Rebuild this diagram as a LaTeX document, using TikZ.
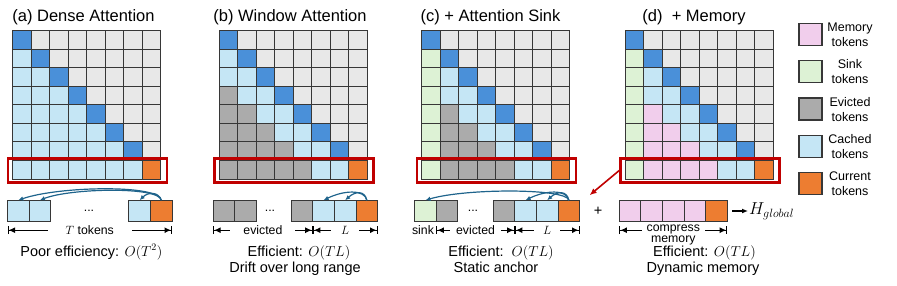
\documentclass[tikz,border=0pt]{standalone}
\usepackage{fontspec}
\setmainfont{Liberation Sans}
\usetikzlibrary{positioning,arrows.meta}

\definecolor{diag}{RGB}{74,144,217}
\definecolor{cached}{RGB}{197,230,245}
\definecolor{future}{RGB}{232,232,232}
\definecolor{evicted}{RGB}{171,171,171}
\definecolor{sink}{RGB}{221,242,213}
\definecolor{memory}{RGB}{241,206,236}
\definecolor{current}{RGB}{237,125,49}
\definecolor{gridline}{RGB}{55,55,55}
\definecolor{boxred}{RGB}{192,0,0}
\definecolor{arcblue}{RGB}{31,100,140}

\tikzset{
    cell/.style={draw=gridline, line width=1pt},
    tok/.style={draw=gridline, line width=1pt, minimum width=21.6pt, minimum height=21.6pt, inner sep=0pt, outer sep=0pt},
    redbox/.style={draw=boxred, line width=2.6pt, minimum width=159pt, minimum height=24.5pt, inner sep=0pt},
    attn/.style={draw=arcblue, line width=1.2pt, -{Latex[length=5pt,width=4.5pt]}},
    dim/.style={line width=1.1pt, {Bar[width=8pt]Latex[length=6.5pt,width=6pt]}-{Latex[length=6.5pt,width=6pt]Bar[width=8pt]}},
    lbl/.style={font=\fontsize{12.3}{10}\selectfont, inner sep=0pt},
    dimlbl/.style={lbl, fill=white, inner ysep=1pt},
    title/.style={font=\fontsize{16.5}{19}\selectfont, anchor=base, inner sep=0pt},
    caption/.style={font=\fontsize{14.5}{17}\selectfont, anchor=base, inner sep=0pt},
    legbox/.style={draw=gridline, line width=1.2pt, minimum width=23pt, minimum height=22pt, inner sep=0pt},
    legtxt/.style={font=\fontsize{12.5}{15}\selectfont, align=center, inner sep=0pt},
}

\begin{document}
\begin{tikzpicture}[x=1pt,y=-1pt]
    \useasboundingbox (0,0) rectangle (897,286);

    % attention maps
    \foreach \p/\xo in {0/12.5,1/219,2/421.5,3/625} {
        \foreach \r in {0,...,7} {
            \foreach \c in {0,...,7} {
                \def\cc{evicted}
                \ifnum\p=3 \def\cc{memory}\fi
                \ifnum\c>\numexpr\r-3\relax \def\cc{cached}\fi
                \ifnum\p=0 \def\cc{cached}\fi
                \ifnum\p>1 \ifnum\c=0 \def\cc{sink}\fi\fi
                \ifnum\c=\r \def\cc{diag}\fi
                \ifnum\c>\r \def\cc{future}\fi
                \filldraw[cell, fill=\cc] ({\xo+\c*18.5},{31+\r*18.5}) rectangle +(18.5,18.5);
            }
        }
        \filldraw[cell, fill=current] ({\xo+7*18.5},{31+7*18.5}) rectangle +(18.5,18.5);
    }

    \node[title] (ttl-a) at (83.5,22) {(a) Dense Attention};
    \node[title] (ttl-b) at (290,22) {(b) Window Attention};
    \node[title] (ttl-c) at (490.5,22) {(c) + Attention Sink};
    \node[title] (ttl-d) at (694,22) {(d)\ \ + Memory};

    % last row = current query
    \node[redbox] (row-a) at (87.5,170.5) {};
    \node[redbox] (row-b) at (294,170.5) {};
    \node[redbox] (row-c) at (496.5,170.5) {};
    \node[redbox] (row-d) at (700,170.5) {};

    % (a) strip
    \node[tok, fill=cached] (a1) at (18.3,211) {};
    \node[tok, fill=cached, right=0pt of a1] (a2) {};
    \node[lbl] (dots-a) at (89,211) {...};
    \node[tok, fill=cached] (a3) at (139.7,211) {};
    \node[tok, fill=current, right=0pt of a3] (a4) {};
    \draw[attn] (a4.north) .. controls +(-2,-16) and +(40,-14) .. (a1.north);
    \draw[attn] (a4.north) .. controls +(-2,-14) and +(30,-12) .. (a2.north);
    \draw[attn] (a4.north) .. controls +(-3,-9) and +(8,-8) .. (a3.north);
    \draw[dim] ([yshift=-8.4pt]a1.south west) -- node[dimlbl, inner xsep=18pt] (len-a) {$T$ tokens} ([yshift=-8.4pt]a4.south east);

    % (b) strip
    \node[tok, fill=evicted] (b1) at (223.8,211) {};
    \node[tok, fill=evicted, right=0pt of b1] (b2) {};
    \node[lbl] (dots-b) at (270,211) {...};
    \node[tok, fill=evicted] (b3) at (302,211) {};
    \node[tok, fill=cached, right=0pt of b3] (b4) {};
    \node[tok, fill=cached, right=0pt of b4] (b5) {};
    \node[tok, fill=current, right=0pt of b5] (b6) {};
    \draw[attn] (b6.north) .. controls +(-2,-11) and +(20,-10) .. (b4.north);
    \draw[attn] (b6.north) .. controls +(-2,-10) and +(10,-9) .. (b5.north);
    \draw[dim] ([yshift=-8.4pt]b1.south west) -- node[dimlbl, inner xsep=13pt] (evict-b) {evicted} ([yshift=-8.4pt]b3.south east);
    \draw[dim] ([yshift=-8.4pt]b3.south east) -- node[dimlbl, inner xsep=10pt] (win-b) {$L$} ([yshift=-8.4pt]b6.south east);

    % (c) strip
    \node[tok, fill=sink] (c1) at (425.5,211) {};
    \node[tok, fill=evicted, right=0pt of c1] (c2) {};
    \node[lbl] (dots-c) at (473,211) {...};
    \node[tok, fill=evicted] (c3) at (504,211) {};
    \node[tok, fill=cached, right=0pt of c3] (c4) {};
    \node[tok, fill=cached, right=0pt of c4] (c5) {};
    \node[tok, fill=current, right=0pt of c5] (c6) {};
    \draw[attn] (c6.north) .. controls +(-2,-12) and +(40,-12) .. (c1.north);
    \draw[attn] (c6.north) .. controls +(-2,-11) and +(20,-10) .. (c4.north);
    \draw[attn] (c6.north) .. controls +(-2,-10) and +(10,-9) .. (c5.north);
    \node[lbl] (sink-c) at ([xshift=-2.5pt,yshift=-8.4pt]c1.south) {sink};
    \draw[dim] ([yshift=-8.4pt]c1.south east) -- node[dimlbl, inner xsep=6pt] (evict-c) {evicted} ([yshift=-8.4pt]c3.south east);
    \draw[dim] ([yshift=-8.4pt]c3.south east) -- node[dimlbl, inner xsep=9pt] (win-c) {$L$} ([yshift=-8.4pt]c6.south east);

    \node[caption, anchor=center] (plus) at (598,211) {+};

    % (d) strip
    \node[tok, fill=memory] (d1) at (630.1,211) {};
    \node[tok, fill=memory, right=0pt of d1] (d2) {};
    \node[tok, fill=memory, right=0pt of d2] (d3) {};
    \node[tok, fill=memory, right=0pt of d3] (d4) {};
    \node[tok, fill=current, right=0pt of d4] (d5) {};
    \node[anchor=west, inner sep=1pt, font=\fontsize{17}{20}\selectfont] (hglob) at (748,211) {$H_{global}$};
    \draw[line width=1.3pt, -{Latex[length=6pt,width=5pt]}] ([xshift=5pt]d5.east) -- (hglob.west);
    \draw[dim] ([yshift=-8.4pt]d1.south west) -- node[dimlbl, inner xsep=5pt, align=center, yshift=-4.5pt, font=\fontsize{12.3}{11}\selectfont] (mem-d) {compress\\memory} ([yshift=-8.4pt]d5.south east);

    \draw[boxred, line width=1.6pt, -{Latex[length=7pt,width=6pt]}] (row-d.west) -- ([shift={(10pt,5pt)}]c6.north east);

    % captions
    \node[caption] (eff-a) at (91.4,256) {Poor efficiency: $O(T^2)$};
    \node[caption] (eff-b) at (299,256) {Efficient: $O(TL)$};
    \node[caption] (note-b) at (295,272) {Drift over long range};
    \node[caption] (eff-c) at (501,256) {Efficient:\ \ $O(TL)$};
    \node[caption] (note-c) at (496,272) {Static anchor};
    \node[caption] (eff-d) at (704.5,256) {Efficient: $O(TL)$};
    \node[caption] (note-d) at (703,272) {Dynamic memory};

    % legend
    \foreach \i/\col/\txt in {0/memory/Memory,1/sink/Sink,2/evicted/Evicted,3/cached/Cached,4/current/Current} {
        \node[legbox, fill=\col] (leg-\i) at (810.5,{34.5+\i*37.3}) {};
        \node[legtxt] (legtxt-\i) at (850,{34.5+\i*37.3}) {\txt\\tokens};
    }
\end{tikzpicture}
\end{document}
